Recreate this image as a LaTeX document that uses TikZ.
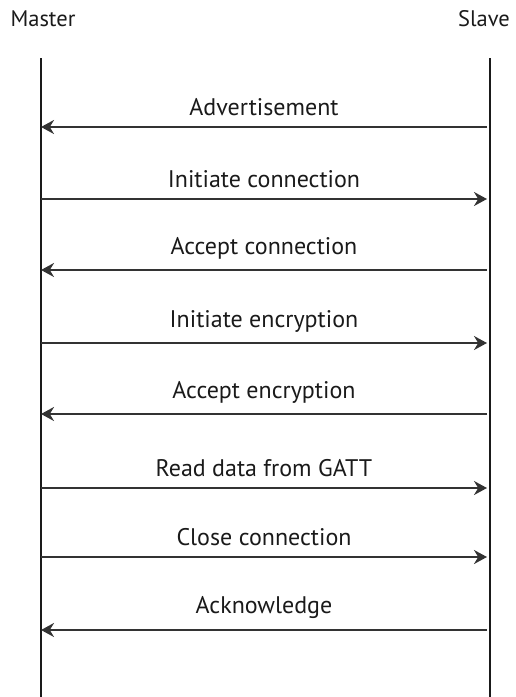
\documentclass[tikz,border=0pt]{standalone}
\usepackage{fontspec}
\setmainfont{PT Sans}
\usepackage{xcolor}
\usepackage{tikz}
\usetikzlibrary{positioning,arrows.meta}
\definecolor{seqink}{HTML}{1A1A1A}
\definecolor{seqline}{HTML}{333333}

\begin{document}
\begin{tikzpicture}[x=1pt,y=-1pt,
  party/.style={font=\fontsize{22.5}{27}\selectfont,text=seqink,inner sep=0pt},
  life/.style={seqink,line width=1.6pt},
  msg/.style={seqline,line width=2pt,-{Stealth[length=13pt,width=14pt]}},
  msglbl/.style={font=\fontsize{24}{28}\selectfont,text=seqink,inner sep=0pt,anchor=base}]
\useasboundingbox (0,0) rectangle (516,697);
\node[party] (master) at (43,19) {Master};
\node[party] (slave) at (484,19) {Slave};
\coordinate (mtop) at (41,58);
\coordinate (mbot) at (41,697);
\coordinate (stop) at (490,58);
\coordinate (sbot) at (490,697);
\draw[life] (mtop) -- (mbot);
\draw[life] (stop) -- (sbot);
% message end points
\coordinate (m1) at (41,127); \coordinate (s1) at (487,127);
\coordinate (m2) at (41,199); \coordinate (s2) at (487,199);
\coordinate (m3) at (41,270); \coordinate (s3) at (487,270);
\coordinate (m4) at (41,343); \coordinate (s4) at (487,343);
\coordinate (m5) at (41,414); \coordinate (s5) at (487,414);
\coordinate (m6) at (41,488); \coordinate (s6) at (487,488);
\coordinate (m7) at (41,557); \coordinate (s7) at (487,557);
\coordinate (m8) at (41,630); \coordinate (s8) at (487,630);
% messages
\draw[msg] (s1) -- node[msglbl,above=10pt] (l1) {Advertisement} (m1);
\draw[msg] (m2) -- node[msglbl,above=10pt] (l2) {Initiate connection} (s2);
\draw[msg] (s3) -- node[msglbl,above=10pt] (l3) {Accept connection} (m3);
\draw[msg] (m4) -- node[msglbl,above=10pt] (l4) {Initiate encryption} (s4);
\draw[msg] (s5) -- node[msglbl,above=10pt] (l5) {Accept encryption} (m5);
\draw[msg] (m6) -- node[msglbl,above=10pt] (l6) {Read data from GATT} (s6);
\draw[msg] (m7) -- node[msglbl,above=10pt] (l7) {Close connection} (s7);
\draw[msg] (s8) -- node[msglbl,above=10pt] (l8) {Acknowledge} (m8);
\end{tikzpicture}
\end{document}
